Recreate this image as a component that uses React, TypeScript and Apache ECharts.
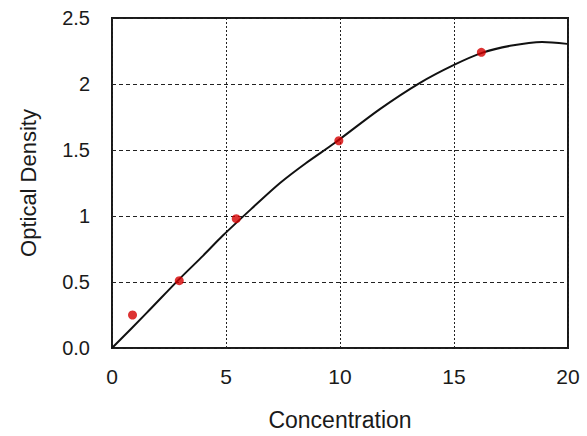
import React, { useEffect, useRef } from "react";
import * as echarts from "echarts";

const pointX = [0.9, 2.95, 5.45, 9.95, 16.2];
const pointY = [0.25, 0.51, 0.98, 1.57, 2.24];

const curveX = [0, 1.5, 2.94, 4.0, 4.84, 6.1, 7.37, 8.5, 9.78, 11.75, 13.51, 15.0, 16.23, 17.46, 18.86, 19.96];
const curveY = [0, 0.262, 0.52, 0.7, 0.848, 1.052, 1.25, 1.4, 1.555, 1.81, 2.009, 2.145, 2.236, 2.289, 2.319, 2.304];

const xTicks = [0, 5, 10, 15, 20];
const yTicks = [0, 0.5, 1, 1.5, 2, 2.5];

const xName = "Concentration";
const yName = "Optical Density";

export default function App() {
  const ref = useRef<HTMLDivElement>(null);
  useEffect(() => {
    if (!ref.current) return;
    const chart = echarts.init(ref.current, undefined, { renderer: "svg" });
    const font = "Liberation Sans, Arial, sans-serif";
    chart.setOption({
      animation: false,
      backgroundColor: "#ffffff",
      grid: {
        left: 112,
        right: 19,
        top: 18,
        bottom: 87,
        show: true,
        borderColor: "#1a1a1a",
        borderWidth: 2,
        backgroundColor: "transparent",
      },
      xAxis: {
        type: "value",
        min: xTicks[0],
        max: xTicks[xTicks.length - 1],
        interval: 5,
        name: xName,
        nameLocation: "middle",
        nameGap: 60,
        nameTextStyle: { fontFamily: font, fontSize: 23, color: "#1a1a1a" },
        axisLine: { show: false },
        axisTick: { show: false },
        axisLabel: {
          fontFamily: font,
          fontSize: 21,
          color: "#1a1a1a",
          margin: 18,
        },
        splitLine: {
          show: true,
          lineStyle: { color: "#222", width: 1, type: [2, 2] },
        },
      },
      yAxis: {
        type: "value",
        min: yTicks[0],
        max: yTicks[yTicks.length - 1],
        interval: 0.5,
        name: yName,
        nameLocation: "middle",
        nameGap: 73,
        nameTextStyle: { fontFamily: font, fontSize: 22, color: "#1a1a1a" },
        axisLine: { show: false },
        axisTick: { show: false },
        axisLabel: {
          fontFamily: font,
          fontSize: 20,
          color: "#1a1a1a",
          margin: 22,
          formatter: (v: number) => (v === 0 ? "0.0" : String(v)),
        },
        splitLine: {
          show: true,
          lineStyle: { color: "#222", width: 1, type: [4, 3] },
        },
      },
      series: [
        {
          type: "line",
          data: curveX.map((x, i) => [x, curveY[i]]),
          smooth: 0.3,
          showSymbol: false,
          symbol: "none",
          lineStyle: { color: "#111", width: 2 },
          z: 3,
        },
        {
          type: "scatter",
          data: pointX.map((x, i) => [x, pointY[i]]),
          symbol: "circle",
          symbolSize: 9,
          itemStyle: { color: "#d40000" },
          z: 4,
        },
      ],
    });
    return () => chart.dispose();
  }, []);
  return <div ref={ref} style={{ width: 587, height: 436, position: "absolute", left: 0, top: 0 }} />;
}
